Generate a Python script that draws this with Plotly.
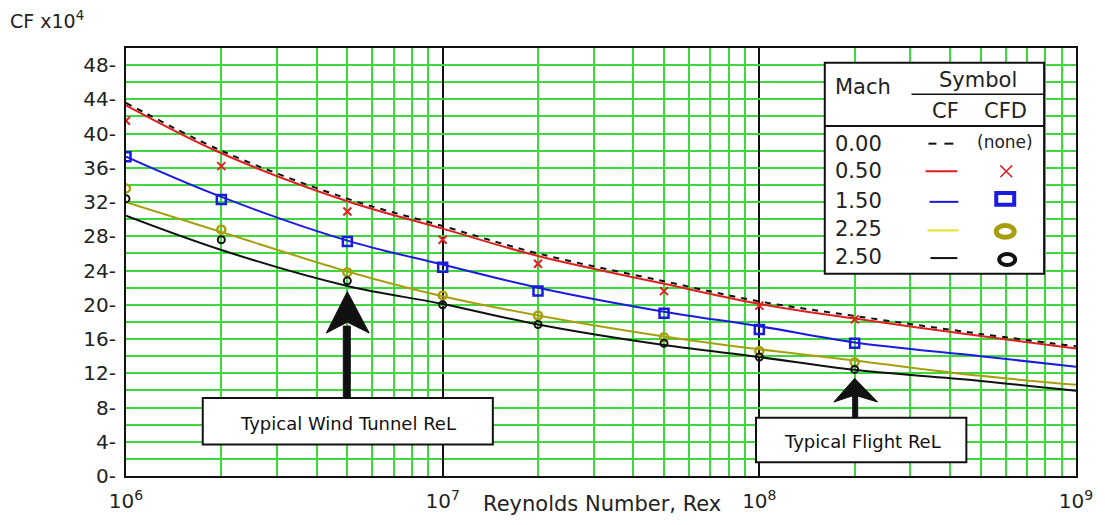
import plotly.graph_objects as go

# Reynolds numbers where the CF curves are sampled
re_curve = [1e6, 2e6, 5e6, 1e7, 2e7, 5e7, 1e8, 2e8, 5e8, 1e9]
# CF x 10^4 curves, one per Mach number
cf_m000 = [43.6, 38.0, 32.4, 29.2, 26.0, 22.75, 20.4, 18.7, 16.6, 15.15]
cf_m050 = [43.3, 37.7, 32.1, 28.9, 25.7, 22.45, 20.1, 18.4, 16.35, 14.9]
cf_m150 = [37.3, 32.6, 27.5, 24.7, 22.0, 19.2, 17.5, 15.6, 14.0, 12.75]
cf_m225 = [32.0, 28.5, 23.9, 21.0, 18.75, 16.3, 14.8, 13.5, 11.7, 10.65]
cf_m250 = [30.4, 26.4, 22.2, 20.1, 17.7, 15.3, 13.9, 12.4, 11.1, 9.95]

# CFD results
re_cfd = [1e6, 2e6, 5e6, 1e7, 2e7, 5e7, 1e8, 2e8]
cfd_m050 = [41.5, 36.2, 30.9, 27.6, 24.8, 21.6, 19.9, 18.3]
cfd_m150 = [37.3, 32.3, 27.4, 24.4, 21.6, 19.0, 17.1, 15.5]
cfd_m225 = [33.6, 28.8, 23.8, 21.1, 18.75, 16.2, 14.6, 13.3]
cfd_m250 = [32.4, 27.6, 22.8, 20.0, 17.7, 15.5, 13.9, 12.45]

y_ticks = list(range(0, 49, 4))
y_ticktext = [f"{v}-" for v in y_ticks]
x_ticks = [1e6, 1e7, 1e8, 1e9]
x_ticktext = ["10<sup>6</sup>", "10<sup>7</sup>", "10<sup>8</sup>", "10<sup>9</sup>"]
x_minor = [m * 10 ** e for e in (6, 7, 8) for m in range(2, 10)]

mach_labels = ["0.00", "0.50", "1.50", "2.25", "2.50"]

RED = "#e02020"
BLUE = "#1a1ae0"
OLIVE = "#a89f10"
YELLOW = "#e4e020"
BLACK = "#111111"
GREEN = "#3cd83c"
FONT = "DejaVu Sans"

W, H = 1105, 525
L, R, T, B = 126, 1079, 48, 482


def px(x):
    return (x - L) / (R - L)


def py(y):
    return (B - y) / (B - T)


fig = go.Figure()

fig.add_trace(go.Scatter(x=re_curve, y=cf_m050, mode="lines", line=dict(color=RED, width=2, shape="spline")))
fig.add_trace(go.Scatter(x=re_curve, y=cf_m000, mode="lines",
                         line=dict(color=BLACK, width=2, dash="6px,6px", shape="spline")))
fig.add_trace(go.Scatter(x=re_curve, y=cf_m150, mode="lines", line=dict(color=BLUE, width=2, shape="spline")))
fig.add_trace(go.Scatter(x=re_curve, y=cf_m225, mode="lines", line=dict(color=OLIVE, width=2, shape="spline")))
fig.add_trace(go.Scatter(x=re_curve, y=cf_m250, mode="lines", line=dict(color=BLACK, width=2, shape="spline")))

fig.add_trace(go.Scatter(x=re_cfd, y=cfd_m050, mode="markers",
                         marker=dict(symbol="x-thin-open", size=8, color=RED, line=dict(color=RED, width=2))))
fig.add_trace(go.Scatter(x=re_cfd, y=cfd_m150, mode="markers",
                         marker=dict(symbol="square-open", size=9, color=BLUE, line=dict(color=BLUE, width=2.5))))
fig.add_trace(go.Scatter(x=re_cfd, y=cfd_m225, mode="markers",
                         marker=dict(symbol="circle-open", size=8, color=OLIVE, line=dict(color=OLIVE, width=2.5))))
fig.add_trace(go.Scatter(x=re_cfd, y=cfd_m250, mode="markers",
                         marker=dict(symbol="circle-open", size=7, color=BLACK, line=dict(color=BLACK, width=2))))

shapes = []
annotations = []


def text(x, y, s, size=21, anchor="center", color="#222222"):
    annotations.append(dict(
        x=px(x), y=py(y), xref="paper", yref="paper", text=s,
        showarrow=False, xanchor=anchor, yanchor="middle",
        font=dict(family=FONT, size=size, color=color)))


def rect(x0, y0, x1, y1, color=BLACK, width=2, fill="white"):
    shapes.append(dict(type="rect", xref="paper", yref="paper",
                       x0=px(x0), y0=py(y0), x1=px(x1), y1=py(y1),
                       line=dict(color=color, width=width), fillcolor=fill))


def seg(x0, y0, x1, y1, color=BLACK, width=2):
    shapes.append(dict(type="line", xref="paper", yref="paper",
                       x0=px(x0), y0=py(y0), x1=px(x1), y1=py(y1),
                       line=dict(color=color, width=width)))


def poly(points, color=BLACK):
    d = "M " + " L ".join(f"{px(a):.5f},{py(b):.5f}" for a, b in points) + " Z"
    shapes.append(dict(type="path", xref="paper", yref="paper", path=d,
                       fillcolor=color, line=dict(color=color, width=1)))


def ellipse(x0, y0, x1, y1, color, width):
    shapes.append(dict(type="circle", xref="paper", yref="paper",
                       x0=px(x0), y0=py(y0), x1=px(x1), y1=py(y1),
                       line=dict(color=color, width=width), fillcolor="rgba(0,0,0,0)"))


# Legend panel
rect(827, 63, 1047, 277)
seg(827, 127, 1047, 127, width=2)
seg(914, 95, 1047, 95, width=1.5)
text(835, 88, "Mach", anchor="left")
text(981, 80, "Symbol")
text(948, 112, "CF")
text(1008, 112, "CFD")
row_y = [145, 173, 203, 232, 260]
for lab, yy in zip(mach_labels, row_y):
    text(835, yy, lab, anchor="left")
text(1008, 143, "(none)", size=17)
seg(931, 145, 939, 145, BLACK, 2)
seg(947, 145, 956, 145, BLACK, 2)
seg(928, 173, 960, 173, RED, 2)
seg(932, 204, 961, 204, BLUE, 2)
seg(930, 233, 961, 233, YELLOW, 2)
seg(933, 261, 960, 261, BLACK, 2)
seg(1003, 167, 1015, 179, RED, 1.5)
seg(1003, 179, 1015, 167, RED, 1.5)
rect(999, 195, 1017, 207, BLUE, 4, "rgba(0,0,0,0)")
ellipse(999, 228, 1017, 240, OLIVE, 5)
ellipse(1002, 257, 1018, 268, BLACK, 4)

# Wind tunnel range callout
rect(203, 403, 494, 450)
text(349, 429, "Typical Wind Tunnel ReL", size=18, color="#111111")
rect(344, 330, 351, 403, BLACK, 1, BLACK)
poly([(348, 295), (370, 337), (348, 326), (327, 337)])

# Flight range callout
rect(758, 423, 969, 468)
text(865, 447, "Typical Flight ReL", size=18, color="#111111")
rect(855, 400, 860, 423, BLACK, 1, BLACK)
poly([(857, 383), (880, 407), (857, 400), (836, 407)])

# Axis titles
text(604, 510, "Reynolds Number, Rex")
annotations.append(dict(x=px(8), y=py(20), xref="paper", yref="paper", text="CF x10<sup>4</sup>",
                        showarrow=False, xanchor="left", yanchor="middle",
                        font=dict(family=FONT, size=19, color="#222222")))

fig.update_layout(
    width=W, height=H,
    margin=dict(l=L, r=W - R, t=T, b=H - B, pad=0),
    paper_bgcolor="white", plot_bgcolor="white",
    showlegend=False,
    shapes=shapes, annotations=annotations,
    xaxis=dict(type="log", range=[6, 9], tickmode="array", tickvals=x_ticks, ticktext=x_ticktext,
               showgrid=True, gridcolor=BLACK, gridwidth=1.5,
               minor=dict(tickmode="array", tickvals=x_minor, showgrid=True, gridcolor=GREEN, gridwidth=2, ticks=""),
               showline=True, linecolor=BLACK, linewidth=2, mirror=True, ticks="", zeroline=False,
               ticklabelstandoff=6, tickfont=dict(family=FONT, size=20, color="#222222")),
    yaxis=dict(range=[0, 50], tickmode="array", tickvals=y_ticks, ticktext=y_ticktext,
               showgrid=True, gridcolor=GREEN, gridwidth=2,
               minor=dict(dtick=2, showgrid=True, gridcolor=GREEN, gridwidth=2, ticks=""),
               showline=True, linecolor=BLACK, linewidth=2, mirror=True, ticks="", zeroline=False,
               ticklabelstandoff=4, tickfont=dict(family=FONT, size=20, color="#222222")),
)

fig.write_html("out.html")
